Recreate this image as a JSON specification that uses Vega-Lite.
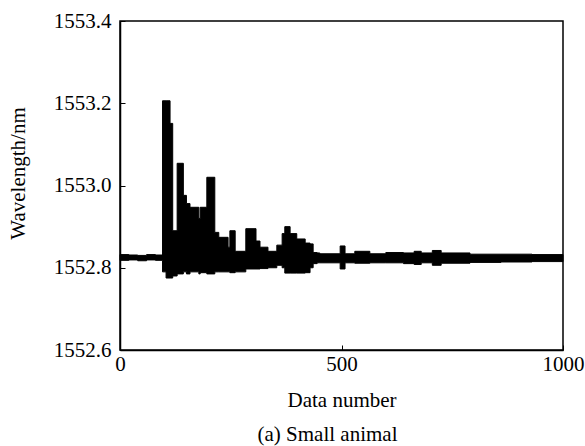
{
  "$schema": "https://vega.github.io/schema/vega-lite/v6.json",
  "autosize": "none",
  "width": 443,
  "height": 329,
  "padding": {"left": 120, "top": 21, "right": 22, "bottom": 96},
  "background": "white",
  "title": {"text": "(a) Small animal", "orient": "bottom", "anchor": "middle", "font": "Liberation Serif", "fontSize": 21, "fontWeight": "normal", "color": "black", "offset": 14, "dx": -14},
  "config": {
    "view": {"stroke": "black", "strokeWidth": 1.5},
    "axis": {"labelFont": "Liberation Serif", "titleFont": "Liberation Serif", "labelFontSize": 21, "titleFontSize": 21, "titleFontWeight": "normal", "labelColor": "black", "titleColor": "black", "domainColor": "black", "domainWidth": 1.5, "tickColor": "black", "grid": false}
  },
  "data": {"values": [
    {"n": 0, "lo": 1552.818, "hi": 1552.832},
    {"n": 20, "lo": 1552.819, "hi": 1552.831},
    {"n": 40, "lo": 1552.817, "hi": 1552.830},
    {"n": 60, "lo": 1552.819, "hi": 1552.832},
    {"n": 80, "lo": 1552.818, "hi": 1552.831},
    {"n": 96, "lo": 1552.790, "hi": 1553.206},
    {"n": 104, "lo": 1552.775, "hi": 1553.206},
    {"n": 113, "lo": 1552.775, "hi": 1553.151},
    {"n": 119, "lo": 1552.780, "hi": 1552.890},
    {"n": 129, "lo": 1552.785, "hi": 1553.054},
    {"n": 143, "lo": 1552.790, "hi": 1552.976},
    {"n": 150, "lo": 1552.785, "hi": 1552.956},
    {"n": 158, "lo": 1552.790, "hi": 1552.947},
    {"n": 178, "lo": 1552.785, "hi": 1552.920},
    {"n": 181, "lo": 1552.788, "hi": 1552.947},
    {"n": 196, "lo": 1552.785, "hi": 1553.020},
    {"n": 214, "lo": 1552.790, "hi": 1552.886},
    {"n": 223, "lo": 1552.790, "hi": 1552.874},
    {"n": 244, "lo": 1552.790, "hi": 1552.850},
    {"n": 248, "lo": 1552.788, "hi": 1552.890},
    {"n": 260, "lo": 1552.790, "hi": 1552.840},
    {"n": 284, "lo": 1552.797, "hi": 1552.895},
    {"n": 307, "lo": 1552.797, "hi": 1552.865},
    {"n": 316, "lo": 1552.798, "hi": 1552.850},
    {"n": 334, "lo": 1552.800, "hi": 1552.840},
    {"n": 354, "lo": 1552.806, "hi": 1552.855},
    {"n": 366, "lo": 1552.800, "hi": 1552.883},
    {"n": 372, "lo": 1552.787, "hi": 1552.900},
    {"n": 384, "lo": 1552.787, "hi": 1552.883},
    {"n": 399, "lo": 1552.787, "hi": 1552.870},
    {"n": 418, "lo": 1552.788, "hi": 1552.860},
    {"n": 429, "lo": 1552.800, "hi": 1552.858},
    {"n": 436, "lo": 1552.810, "hi": 1552.837},
    {"n": 445, "lo": 1552.812, "hi": 1552.836},
    {"n": 451, "lo": 1552.812, "hi": 1552.834},
    {"n": 497, "lo": 1552.797, "hi": 1552.853},
    {"n": 508, "lo": 1552.812, "hi": 1552.834},
    {"n": 530, "lo": 1552.811, "hi": 1552.840},
    {"n": 564, "lo": 1552.812, "hi": 1552.834},
    {"n": 600, "lo": 1552.812, "hi": 1552.837},
    {"n": 640, "lo": 1552.810, "hi": 1552.836},
    {"n": 664, "lo": 1552.808, "hi": 1552.840},
    {"n": 680, "lo": 1552.812, "hi": 1552.836},
    {"n": 705, "lo": 1552.806, "hi": 1552.842},
    {"n": 725, "lo": 1552.811, "hi": 1552.836},
    {"n": 790, "lo": 1552.813, "hi": 1552.833},
    {"n": 860, "lo": 1552.814, "hi": 1552.833},
    {"n": 930, "lo": 1552.815, "hi": 1552.832},
    {"n": 1000, "lo": 1552.815, "hi": 1552.832}
  ]},
  "mark": {"type": "area", "interpolate": "step-after", "color": "black", "stroke": "black", "strokeWidth": 1},
  "encoding": {
    "x": {"field": "n", "type": "quantitative", "title": "Data number", "scale": {"domain": [0, 1000], "nice": false}, "axis": {"values": [0, 500, 1000], "format": "d", "tickSize": -5, "labelPadding": 8, "titlePadding": 15, "labelFlush": false}},
    "y": {"field": "lo", "type": "quantitative", "title": "Wavelength/nm", "scale": {"domain": [1552.6, 1553.4], "nice": false, "zero": false}, "axis": {"values": [1552.6, 1552.8, 1553.0, 1553.2, 1553.4], "format": ".1f", "tickSize": -5, "labelPadding": 14, "titleX": -92, "titleY": 152, "labelFlush": false}},
    "y2": {"field": "hi"}
  }
}
